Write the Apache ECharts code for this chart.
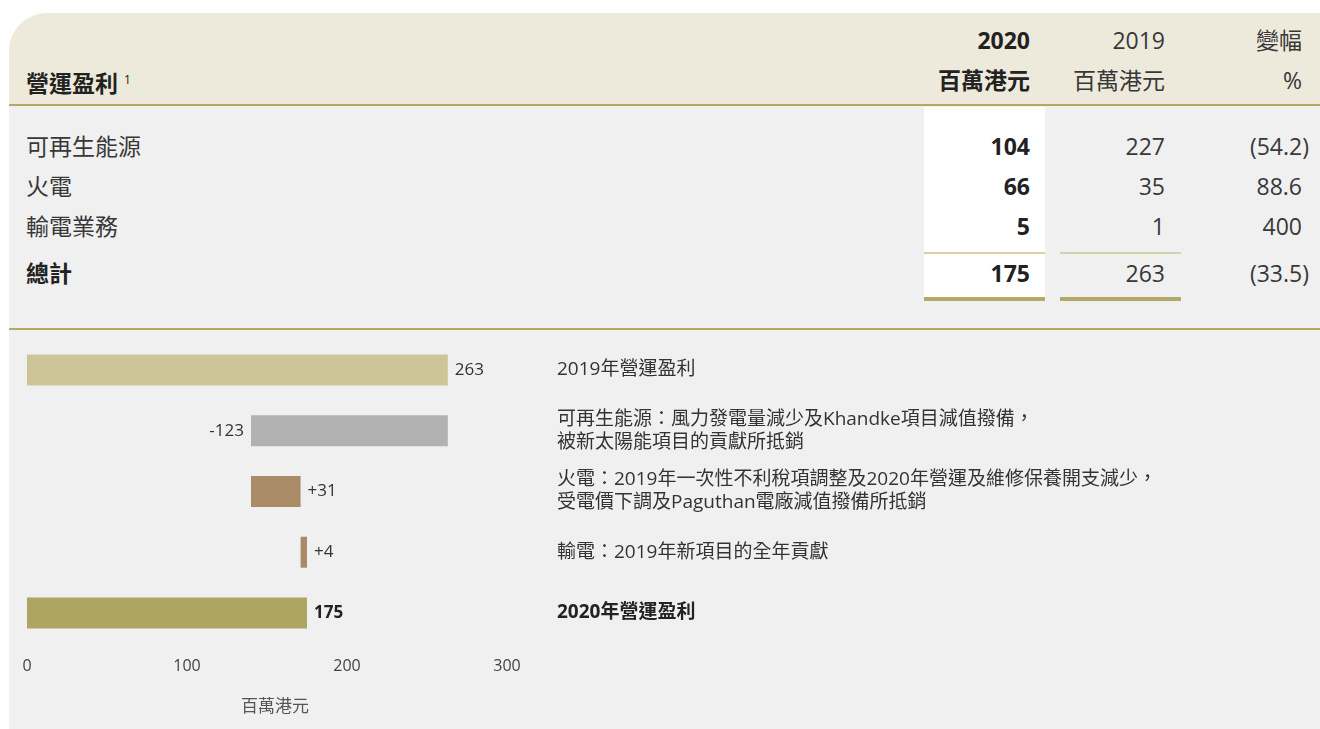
<!DOCTYPE html>
<html>
<head>
<meta charset="utf-8">
<title>營運盈利</title>
<script src="https://cdn.jsdelivr.net/npm/echarts@6/dist/echarts.min.js"></script>
<style>
  body { margin: 0; background: #fff; font-family: 'Open Sans', 'Noto Sans CJK TC', sans-serif; }
  #page { position: relative; width: 1320px; height: 729px; overflow: hidden; }
  #panel { position: absolute; left: 9px; top: 13px; width: 1320px; height: 716px; background: #f0f0f0; border-top-left-radius: 38px; overflow: hidden; }
  #head { position: absolute; left: 0; top: 0; width: 100%; height: 91px; background: #edeadc; border-bottom: 2px solid #b3a866; }
  .t { position: absolute; height: 30px; line-height: 30px; font-size: 23px; color: #383838; white-space: nowrap; }
  .r { text-align: right; }
  .b { font-weight: bold; color: #222; }
  .box { position: absolute; }
  #chart { position: absolute; left: 0; top: 330px; width: 1320px; height: 399px; }
</style>
</head>
<body>
<div id="page">
  <div id="panel"><div id="head"></div></div>
  <div id="table"></div>
  <div id="chart"></div>
</div>
<script>
// table
var rowLabels = ['可再生能源', '火電', '輸電業務'];
var values2020 = [104, 66, 5];
var values2019 = [227, 35, 1];
var changePct = ['(54.2)', '88.6', '400'];
var total2020 = 175;
var total2019 = 263;
var totalPct = '(33.5)';

// waterfall
var descriptions = [
  '2019年營運盈利',
  '可再生能源：風力發電量減少及Khandke項目減值撥備，\n被新太陽能項目的貢獻所抵銷',
  '火電：2019年一次性不利稅項調整及2020年營運及維修保養開支減少，\n受電價下調及Paguthan電廠減值撥備所抵銷',
  '輸電：2019年新項目的全年貢獻',
  '2020年營運盈利'
];
var steps = [263, -123, 31, 4, 175];
var stepLabels = ['263', '-123', '+31', '+4', '175'];
var barColors = ['#cdc598', '#b2b2b2', '#a98b68', '#a98b68', '#aea563'];
var xTicks = [0, 100, 200, 300];

var font = "'Open Sans', 'Noto Sans CJK TC', sans-serif";
var tbl = document.getElementById('table');

function box(x, y, w, h, bg) {
  var d = document.createElement('div');
  d.className = 'box';
  d.style.cssText = 'left:' + x + 'px;top:' + y + 'px;width:' + w + 'px;height:' + h + 'px;background:' + bg;
  tbl.appendChild(d);
}
function text(s, x, y, cls, right) {
  var d = document.createElement('div');
  d.className = 't ' + (cls || '');
  if (right) {
    d.className += ' r';
    d.style.right = (1320 - x) + 'px';
  } else {
    d.style.left = x + 'px';
  }
  d.style.top = (y - 15) + 'px';
  // closing bracket hangs past the column edge
  if (/\)$/.test(s)) {
    s = s.slice(0, -1) + '<span style="margin-right:-7px">)</span>';
  }
  d.innerHTML = s;
  tbl.appendChild(d);
}

// column shading and rules
box(924, 107, 121, 190, '#ffffff');
box(924, 252, 121, 2, '#d8d2aa');
box(1060, 252, 121, 2, '#d8d2aa');
box(924, 297, 121, 4, '#b3a866');
box(1060, 297, 121, 4, '#b3a866');
box(9, 328, 1311, 2, '#b3a866');

// header
text('營運盈利<sup style="font-size:12px;font-weight:normal;vertical-align:8px;margin-left:6px">1</sup>', 26, 80, 'b');
text('2020', 1030, 40, 'b', true);
text('百萬港元', 1030, 80, 'b', true);
text('2019', 1165, 40, '', true);
text('百萬港元', 1165, 80, '', true);
text('變幅', 1302, 40, '', true);
text('%', 1302, 80, '', true);

var rowY = [146, 186, 226];
rowLabels.forEach(function (lab, i) {
  text(lab, 26, rowY[i], '');
  text(String(values2020[i]), 1030, rowY[i], 'b', true);
  text(String(values2019[i]), 1165, rowY[i], '', true);
  text(changePct[i], 1302, rowY[i], '', true);
});
text('總計', 26, 273, 'b');
text(String(total2020), 1030, 273, 'b', true);
text(String(total2019), 1165, 273, '', true);
text(totalPct, 1302, 273, '', true);

// waterfall: invisible base + visible step
var base = [], size = [];
var running = 0;
steps.forEach(function (v, i) {
  if (i === 0 || i === steps.length - 1) {
    base.push(0);
    size.push(v);
    running = v;
  } else if (v < 0) {
    running += v;
    base.push(running);
    size.push(-v);
  } else {
    base.push(running);
    size.push(v);
    running += v;
  }
});

var myChart = echarts.init(document.getElementById('chart'));
var option = {
  textStyle: { fontFamily: font },
  animation: false,
  grid: { left: 27, width: 480, top: 9.6, height: 303.75 },
  xAxis: {
    type: 'value',
    min: xTicks[0],
    max: xTicks[xTicks.length - 1],
    interval: xTicks[1] - xTicks[0],
    axisLine: { show: false },
    axisTick: { show: false },
    splitLine: { show: false },
    axisLabel: { fontSize: 16, color: '#444', margin: 15, fontFamily: font },
    name: '百萬港元',
    nameLocation: 'middle',
    nameGap: 55,
    nameTextStyle: { fontSize: 17, color: '#555', fontFamily: font, padding: [0, 0, 0, 16] }
  },
  yAxis: [{
    type: 'category',
    inverse: true,
    data: descriptions,
    axisLine: { show: false },
    axisTick: { show: false },
    axisLabel: { show: false }
  }, {
    type: 'category',
    inverse: true,
    position: 'right',
    data: descriptions,
    axisLine: { show: false },
    axisTick: { show: false },
    axisLabel: {
      margin: 50,
      align: 'left',
      fontSize: 19,
      lineHeight: 23,
      color: '#333',
      fontFamily: font,
      formatter: function (v, i) {
        return i === descriptions.length - 1 ? '{b|' + v + '}' : v;
      },
      rich: {
        b: { fontSize: 19, fontWeight: 'bold', color: '#222', fontFamily: font }
      }
    }
  }],
  series: [{
    name: 'base',
    type: 'bar',
    stack: 'wf',
    barWidth: 31,
    silent: true,
    itemStyle: { color: 'transparent' },
    data: base
  }, {
    name: '營運盈利',
    type: 'bar',
    stack: 'wf',
    barWidth: 31,
    silent: true,
    data: size.map(function (v, i) {
      var last = i === size.length - 1;
      return {
        value: v,
        itemStyle: { color: barColors[i] },
        label: {
          show: true,
          position: steps[i] < 0 ? 'left' : 'right',
          distance: 7,
          formatter: stepLabels[i],
          fontSize: 17,
          color: last ? '#222' : '#333',
          fontWeight: last ? 'bold' : 'normal',
          fontFamily: font
        }
      };
    })
  }]
};
myChart.setOption(option);
</script>
</body>
</html>
